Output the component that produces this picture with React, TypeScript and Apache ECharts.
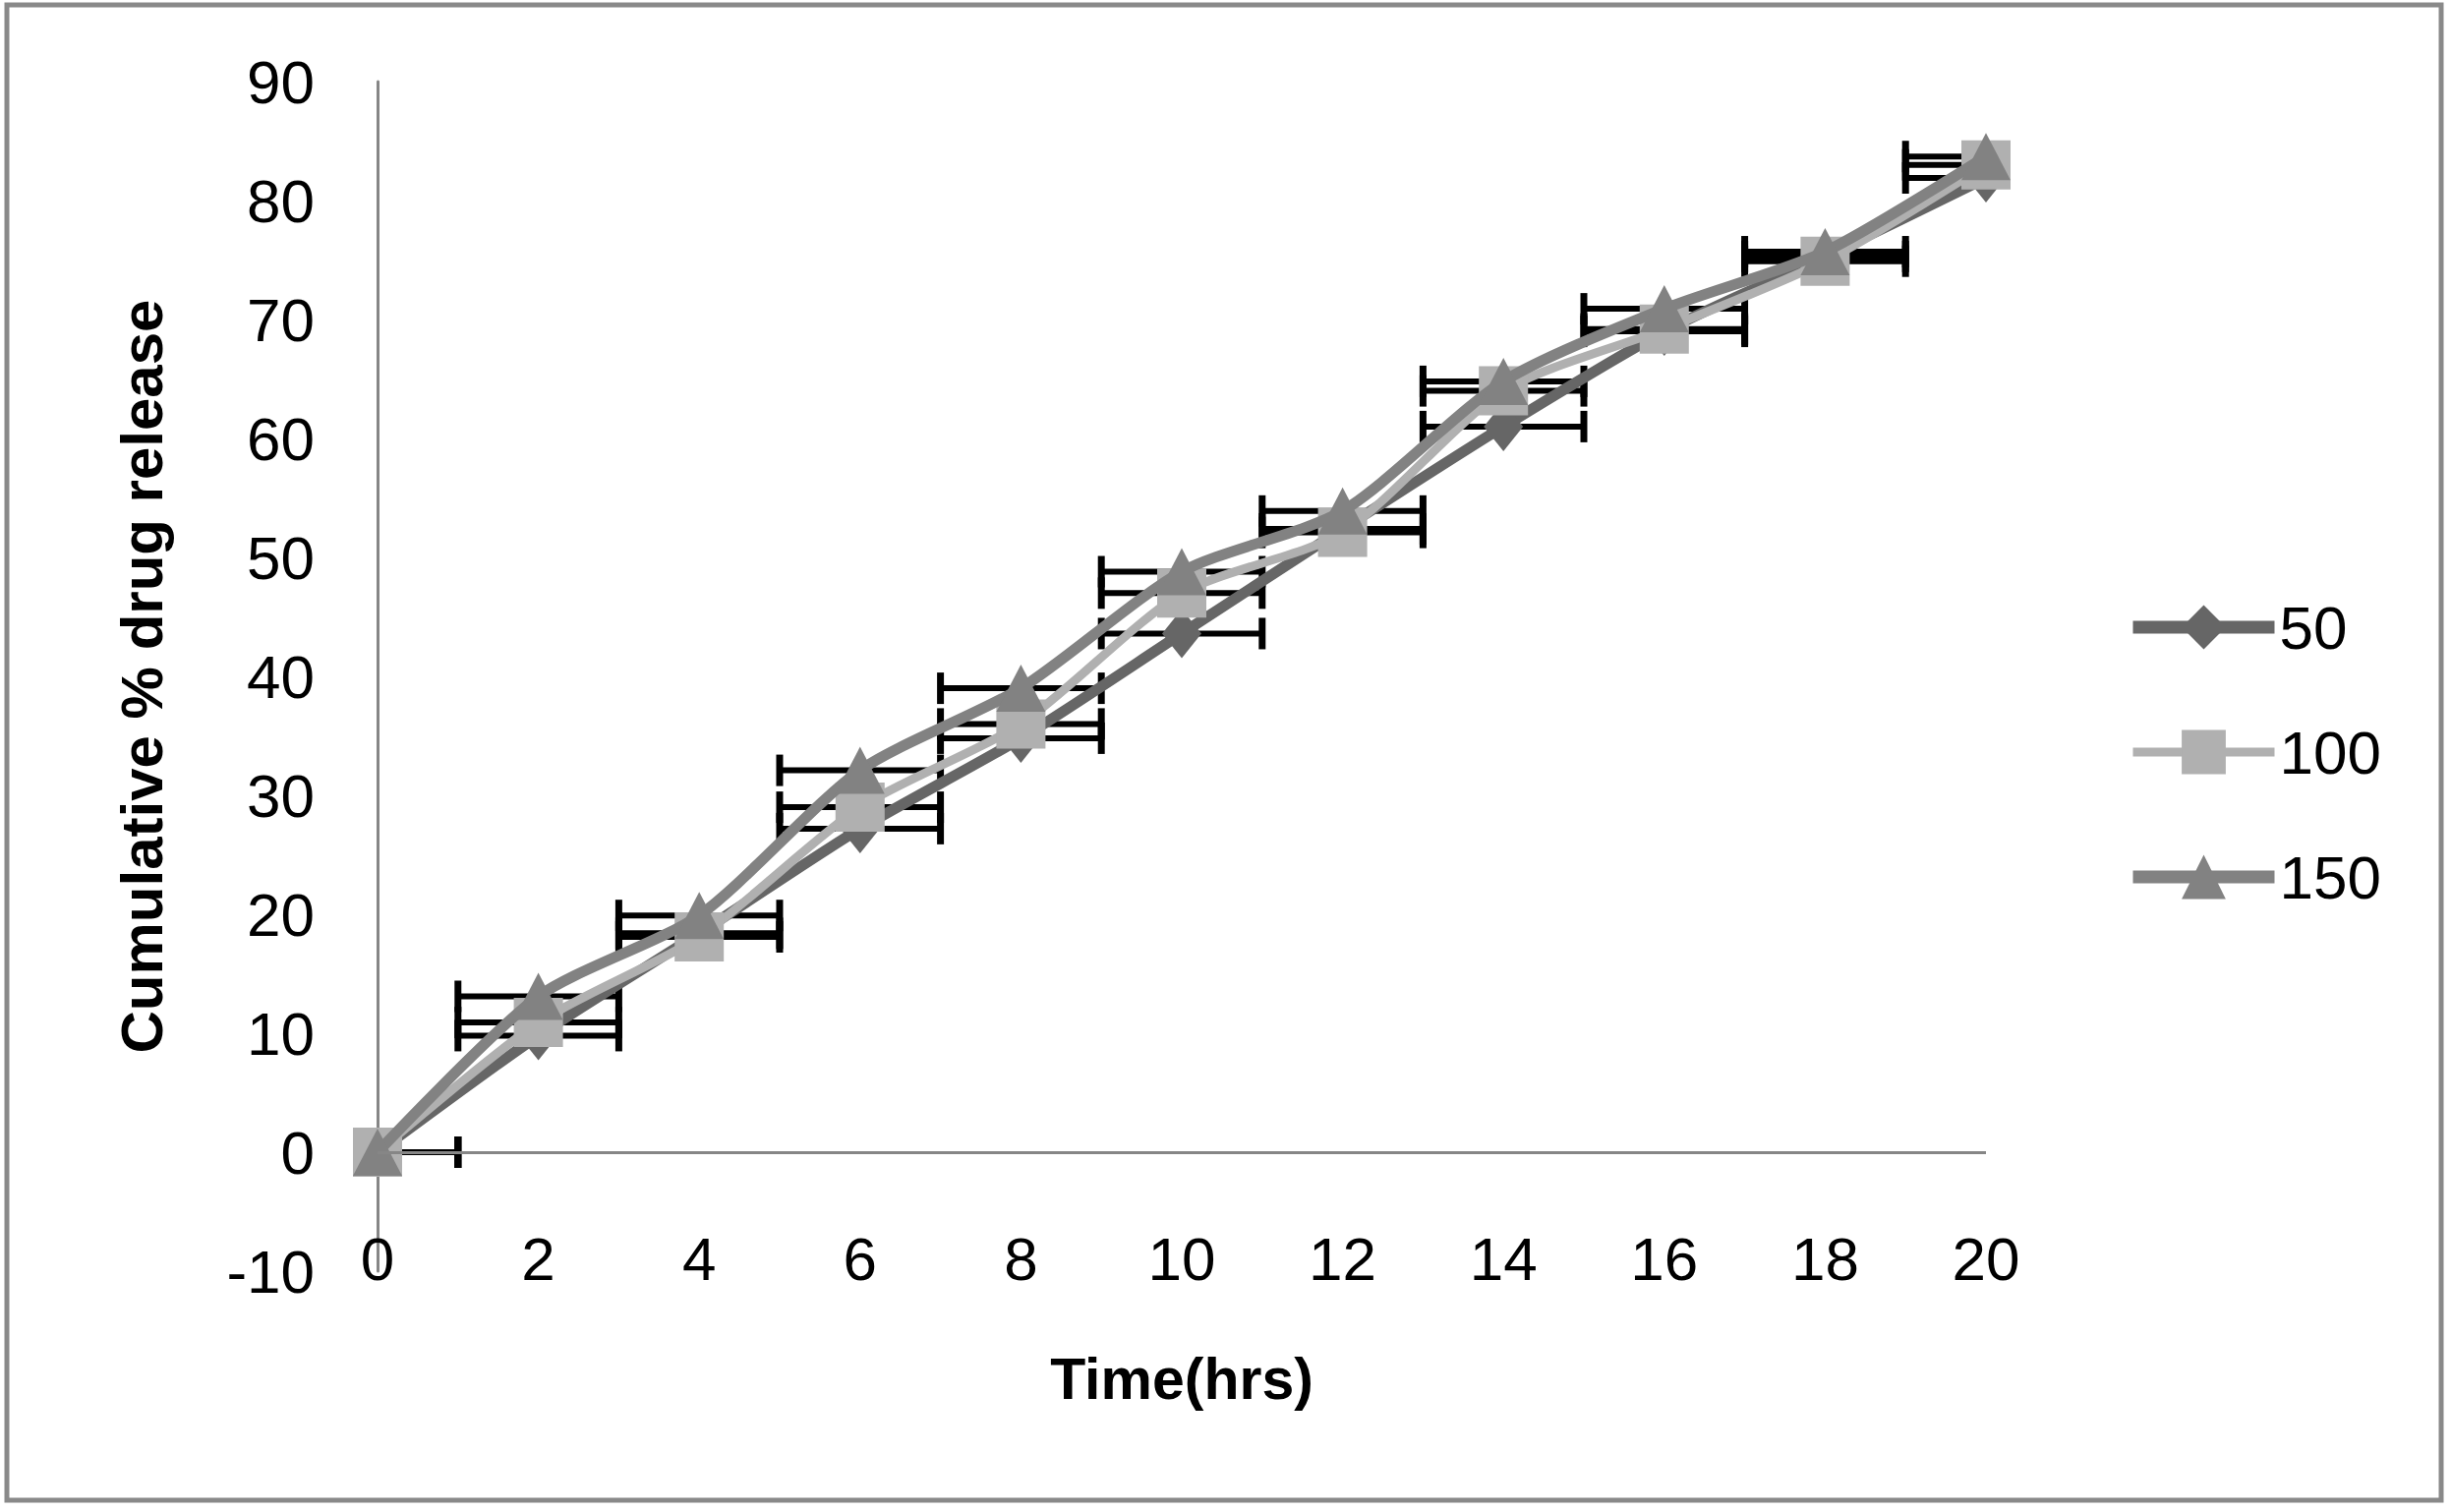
import React, { useEffect, useRef } from "react";
import * as echarts from "echarts";

// ---- data ----
const timeHrs = [0, 2, 4, 6, 8, 10, 12, 14, 16, 18, 20];
const release50 = [0, 9.8, 18.4, 27.2, 34.8, 43.6, 52.4, 61.0, 69.0, 75.3, 81.9];
const release100 = [0, 10.9, 18.1, 29.0, 36.0, 47.0, 52.1, 64.0, 69.2, 74.9, 83.0];
const release150 = [0, 13.1, 19.9, 32.1, 39.0, 48.8, 53.9, 64.8, 70.9, 75.7, 83.7];
const timeErr = [1, 1, 1, 1, 1, 1, 1, 1, 1, 1, 1];
const seriesNames = ["50", "100", "150"];

const FONT = "'Liberation Sans', Arial, sans-serif";

function errorBars(values: number[], name: string) {
  return {
    type: "custom",
    name: name + "-err",
    silent: true,
    z: 1,
    data: timeHrs.map((t, i) => [t, values[i], timeErr[i]]),
    renderItem: (params: any, api: any) => {
      const x = api.value(0);
      const y = api.value(1);
      const e = api.value(2);
      const l = api.coord([x - e, y]);
      const r = api.coord([x + e, y]);
      const cs = params.coordSys;
      const minX = cs.x;
      const maxX = cs.x + cs.width;
      const lx = Math.max(l[0], minX);
      const rx = Math.min(r[0], maxX);
      const capH = 16;
      const children: any[] = [
        {
          type: "line",
          shape: { x1: lx, y1: l[1], x2: rx, y2: l[1] },
          style: { stroke: "#000", lineWidth: 6 },
        },
      ];
      if (l[0] >= minX - 0.5) {
        children.push({
          type: "line",
          shape: { x1: l[0], y1: l[1] - capH, x2: l[0], y2: l[1] + capH },
          style: { stroke: "#000", lineWidth: 7 },
        });
      }
      if (r[0] <= maxX + 0.5) {
        children.push({
          type: "line",
          shape: { x1: r[0], y1: r[1] - capH, x2: r[0], y2: r[1] + capH },
          style: { stroke: "#000", lineWidth: 7 },
        });
      }
      return { type: "group", children };
    },
  };
}

export default function App() {
  const ref = useRef<HTMLDivElement>(null);

  useEffect(() => {
    document.body.style.margin = "0";
    if (!ref.current) return;
    const chart = echarts.init(ref.current, undefined, { renderer: "svg" });
    const pair = (vals: number[]) => timeHrs.map((t, i) => [t, vals[i]]);

    chart.setOption({
      animation: false,
      backgroundColor: "#ffffff",
      grid: { left: 384, right: 473, top: 83, bottom: 245, containLabel: false },
      graphic: [
        {
          type: "rect",
          shape: { x: 7, y: 5, width: 2476, height: 1521 },
          style: { fill: "none", stroke: "#898989", lineWidth: 5 },
          silent: true,
        },
      ],
      legend: {
        orient: "vertical",
        left: 2158,
        top: 602,
        itemWidth: 144,
        itemHeight: 56,
        itemGap: 65,
        textStyle: { fontFamily: FONT, fontSize: 62, color: "#000", lineHeight: 56 },
        data: [
          { name: seriesNames[0], lineStyle: { width: 13 } },
          { name: seriesNames[1], lineStyle: { width: 9 } },
          { name: seriesNames[2], lineStyle: { width: 13 } },
        ],
      },
      xAxis: {
        type: "value",
        min: 0,
        max: 20,
        interval: 2,
        name: "Time(hrs)",
        nameLocation: "middle",
        nameGap: 80,
        nameTextStyle: { fontFamily: FONT, fontSize: 59, fontWeight: "bold", color: "#000" },
        axisLine: { show: false, onZero: false },
        axisTick: { show: false },
        splitLine: { show: false },
        axisLabel: { fontFamily: FONT, fontSize: 62, color: "#000", margin: -44 },
      },
      yAxis: {
        type: "value",
        min: -10,
        max: 90,
        interval: 10,
        name: "Cumulative % drug release",
        nameLocation: "middle",
        nameGap: 210,
        nameRotate: 90,
        nameTextStyle: { fontFamily: FONT, fontSize: 60, fontWeight: "bold", color: "#000" },
        axisLine: { show: true, lineStyle: { color: "#868686", width: 3 } },
        axisTick: { show: false },
        splitLine: { show: false },
        axisLabel: { fontFamily: FONT, fontSize: 62, color: "#000", margin: 64 },
      },
      series: [
        {
          type: "line",
          name: "zero-line",
          data: [],
          z: 0,
          silent: true,
          markLine: {
            silent: true,
            symbol: "none",
            label: { show: false },
            lineStyle: { color: "#868686", width: 3, type: "solid" },
            data: [{ yAxis: 0 }],
          },
        },
        errorBars(release50, seriesNames[0]),
        errorBars(release100, seriesNames[1]),
        errorBars(release150, seriesNames[2]),
        {
          type: "line",
          name: seriesNames[0],
          data: pair(release50),
          z: 2,
          smooth: 0.25,
          symbol: "diamond",
          symbolSize: [40, 50],
          lineStyle: { color: "#666666", width: 11 },
          itemStyle: { color: "#666666" },
        },
        {
          type: "line",
          name: seriesNames[1],
          data: pair(release100),
          z: 3,
          smooth: 0.25,
          symbol: "rect",
          symbolSize: 50,
          lineStyle: { color: "#b0b0b0", width: 9 },
          itemStyle: { color: "#b0b0b0" },
        },
        {
          type: "line",
          name: seriesNames[2],
          data: pair(release150),
          z: 4,
          smooth: 0.25,
          symbol: "triangle",
          symbolSize: [50, 48],
          lineStyle: { color: "#828282", width: 11 },
          itemStyle: { color: "#828282" },
        },
      ],
    });

    return () => chart.dispose();
  }, []);

  return (
    <div
      ref={ref}
      style={{ position: "fixed", left: 0, top: 0, width: 2493, height: 1538 }}
    />
  );
}
